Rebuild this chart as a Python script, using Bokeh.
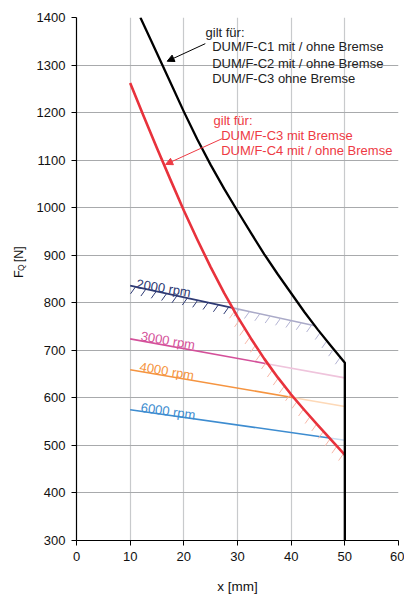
import numpy as np
from bokeh.plotting import figure
from bokeh.layouts import row
from bokeh.models import Label, Arrow, NormalHead, Range1d, FixedTicker
from bokeh.core.properties import value
from bokeh.embed import file_html
from bokeh.resources import INLINE

# ---- data ----
black_x = [11.9, 14, 16, 18, 20, 22.5, 25, 27.5, 30, 32.5, 35, 37.5, 40, 42.5, 45, 47.5, 50, 50]
black_F = [1400, 1349, 1300, 1251, 1202, 1144, 1090, 1040, 993, 947, 902, 860, 820, 780, 743, 708, 674, 300]

red_x = [10, 12.5, 15, 17.5, 20, 22.5, 25, 27.5, 30, 32.5, 35, 37.5, 40, 42.5, 45, 47.5, 50]
red_F = [1262, 1193, 1125, 1059, 994, 933, 875, 821, 771, 725, 682, 643, 607, 574, 542, 511, 480]

rpm_names = ["2000 rpm", "3000 rpm", "4000 rpm", "6000 rpm"]
rpm_x0 = [10, 10, 10, 10]
rpm_x1 = [50, 50, 50, 50]
rpm_F0 = [836, 724, 659, 575]
rpm_F1 = [738, 642, 582, 511]
rpm_colors = ["#2e3a74", "#d4509a", "#f59440", "#3d8cd0"]
rpm_faded = ["#aaaac8", "#efc4dc", "#fdd9b8", "#c8dbef"]

x_ticks = [0, 10, 20, 30, 40, 50, 60]
y_ticks = [300, 400, 500, 600, 700, 800, 900, 1000, 1100, 1200, 1300, 1400]

ylabel_parts = ["F", "Q", "[N]"]

FONT = "Liberation Sans"

LW = 30                      # width of the label strip on the left
W, H = 404 - LW, 596
ML, MR, MT, MB = 76 - LW, 6, 17, 55
fw, fh = W - ML - MR, H - MT - MB
pxx = fw / 60.0
pxy = fh / 1100.0

p = figure(width=W, height=H, output_backend="svg", toolbar_location=None,
           x_range=Range1d(0, 60), y_range=Range1d(300, 1400),
           min_border_left=ML, min_border_right=MR, min_border_top=MT,
           min_border_bottom=MB)
p.outline_line_color = None
p.background_fill_color = "white"

p.xaxis.ticker = FixedTicker(ticks=x_ticks)
p.yaxis.ticker = FixedTicker(ticks=y_ticks)
for ax in (p.xaxis[0], p.yaxis[0]):
    ax.axis_line_color = "black"
    ax.axis_line_width = 1.2
    ax.major_tick_line_color = "black"
    ax.major_tick_out = 5
    ax.major_tick_in = 0
    ax.minor_tick_line_color = None
    ax.major_label_text_font = FONT
    ax.major_label_text_font_size = "13px"
    ax.major_label_text_color = "#111111"
    ax.major_label_standoff = 6
p.xaxis.axis_label = "x [mm]"
p.xaxis.axis_label_text_font = FONT
p.xaxis.axis_label_text_font_size = "13.5px"
p.xaxis.axis_label_text_font_style = "normal"
p.xaxis.axis_label_text_color = "#111111"
p.xaxis.axis_label_standoff = 15

p.xgrid.grid_line_color = "#c8cacc"
p.xgrid.grid_line_width = 1.2
p.ygrid.grid_line_color = "#a8aaac"
p.ygrid.grid_line_width = 1.2

# ---- helper: intersection of a straight line with a curve ----
def crossing(cx, cF, x0, F0, x1, F1):
    xs = np.linspace(max(x0, min(cx)), min(x1, max(cx)), 4001)
    lf = F0 + (F1 - F0) * (xs - x0) / (x1 - x0)
    cf = np.interp(xs, cx, cF)
    d = lf - cf
    idx = np.where(np.sign(d[:-1]) != np.sign(d[1:]))[0]
    if len(idx) == 0:
        return None
    return xs[idx[0]]

bcx = black_x[:-1]
bcF = black_F[:-1]

tdx = -5.0 / pxx
tdy = -7.0 / pxy

hx0, hy0, hx1, hy1, hc = [], [], [], [], []

def add_ticks(xs, fs, color):
    for x, f in zip(xs, fs):
        hx0.append(x); hy0.append(f)
        hx1.append(x + tdx); hy1.append(f + tdy)
        hc.append(color)

# ---- rpm lines ----
x_red_2000 = None
x_black_2000 = None
for i in range(4):
    x0, x1, F0, F1 = rpm_x0[i], rpm_x1[i], rpm_F0[i], rpm_F1[i]
    xr = crossing(red_x, red_F, x0, F0, x1, F1)
    lin = lambda x: F0 + (F1 - F0) * (x - x0) / (x1 - x0)
    xend = x1
    if i == 0:
        xb = crossing(bcx, bcF, x0, F0, x1, F1)
        xend = xb
        x_red_2000, x_black_2000 = xr, xb
    p.line([x0, xr], [F0, lin(xr)], line_color=rpm_colors[i], line_width=1.6)
    p.line([xr, xend], [lin(xr), lin(xend)], line_color=rpm_faded[i], line_width=1.6)
    if i == 0:
        xs = np.arange(x0 + 1.0, xend - 0.3, 1.93)
        for x in xs:
            add_ticks([x], [lin(x)], rpm_colors[0] if x < xr else "#b4b4d4")

xs = np.arange(x_black_2000 + 1.0, 50.01, 1.25)
add_ticks(xs, np.interp(xs, bcx, bcF), "#b4b4d4")

xx = np.linspace(x_red_2000, 50, 2000)
ff = np.interp(xx, red_x, red_F)
seg = np.hypot(np.diff(xx) * pxx, np.diff(ff) * pxy)
arc = np.concatenate([[0], np.cumsum(seg)])
targets = np.arange(4, arc[-1], 10.0)
txs = np.interp(targets, arc, xx)
add_ticks(txs, np.interp(txs, red_x, red_F), "#f8b8a8")

p.segment(hx0, hy0, hx1, hy1, line_color=hc, line_width=1)

# ---- main curves ----
p.line(red_x, red_F, line_color="#e8323c", line_width=2.6, line_join="round")
p.line(black_x, black_F, line_color="black", line_width=2.3, line_join="round")

# ---- rpm labels ----
lab_x = [11.2, 12.0, 11.8, 12.0]
lab_off_px = [3.5, 5.0, 5.0, 4.0]
lab_angle_deg = [-9.5, -9.8, -9.7, -8.3]
for i in range(4):
    x0, x1, F0, F1 = rpm_x0[i], rpm_x1[i], rpm_F0[i], rpm_F1[i]
    lx = lab_x[i]
    ly = F0 + (F1 - F0) * (lx - x0) / (x1 - x0) + lab_off_px[i] / pxy
    p.add_layout(Label(x=lx, y=ly, text=rpm_names[i], angle=np.deg2rad(lab_angle_deg[i]),
                       text_font=FONT, text_font_size="13px",
                       text_color=rpm_colors[i], text_align="left",
                       text_baseline="alphabetic"))

# ---- annotations ----
black_txt = ["gilt für:", "DUM/F-C1 mit / ohne Bremse",
             "DUM/F-C2  mit / ohne Bremse", "DUM/F-C3 ohne Bremse"]
red_txt = ["gilt für:", "DUM/F-C3 mit Bremse", "DUM/F-C4  mit / ohne Bremse"]

bx = [24.04, 25.28, 25.28, 25.28]
by = [1369, 1339, 1304, 1271]
for t, x, y in zip(black_txt, bx, by):
    p.add_layout(Label(x=x, y=y, text=t, text_font=FONT, text_font_size="13px",
                       text_color="#222222", text_baseline="middle"))
rx = [25.53, 26.96, 26.96]
ry = [1184, 1152, 1120]
for t, x, y in zip(red_txt, rx, ry):
    p.add_layout(Label(x=x, y=y, text=t, text_font=FONT, text_font_size="13px",
                       text_color="#ee3a44", text_baseline="middle"))

p.add_layout(Arrow(x_start=24.0, y_start=1345, x_end=16.9, y_end=1308,
                   line_color="black", line_width=1,
                   end=NormalHead(size=7, fill_color="black", line_color="black")))
p.add_layout(Arrow(x_start=27.1, y_start=1145, x_end=16.6, y_end=1091,
                   line_color="#ee3a44", line_width=1,
                   end=NormalHead(size=7, fill_color="#ee3a44", line_color="#ee3a44")))

# ---- label strip with the y axis title F_Q [N] ----
q = figure(width=LW, height=H, output_backend="svg", toolbar_location=None,
           x_range=Range1d(0, LW), y_range=Range1d(H, 0),
           min_border_left=0, min_border_right=0, min_border_top=0,
           min_border_bottom=0)
q.axis.visible = False
q.grid.visible = False
q.outline_line_color = None
q.text(x=[18], y=[297], text=[ylabel_parts[0]], angle=np.pi / 2,
       text_font=value(FONT), text_font_size="12.5px", text_color="#111111",
       text_baseline="alphabetic", text_align="left")
q.text(x=[20.5], y=[288.8], text=[ylabel_parts[1]], angle=np.pi / 2,
       text_font=value(FONT), text_font_size="8.5px", text_color="#111111",
       text_baseline="alphabetic", text_align="left")
q.text(x=[18], y=[279], text=[ylabel_parts[2]], angle=np.pi / 2,
       text_font=value(FONT), text_font_size="12.5px", text_color="#111111",
       text_baseline="alphabetic", text_align="left")

layout = row(q, p, spacing=0)
open("out.html", "w").write(file_html(layout, INLINE))
